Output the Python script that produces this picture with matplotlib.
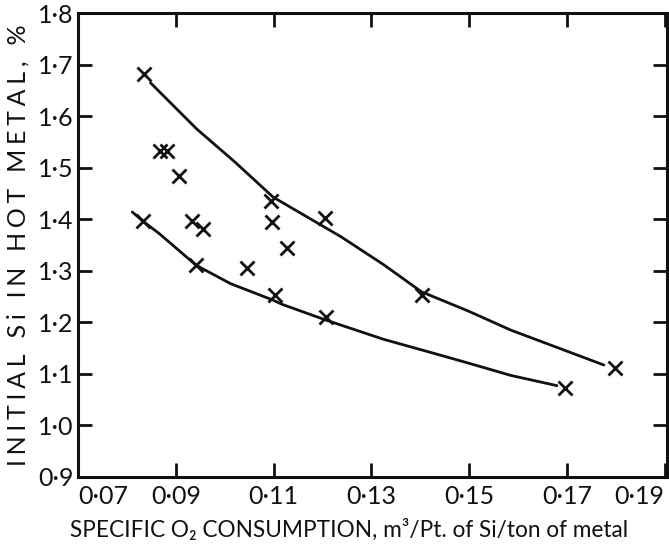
import matplotlib
matplotlib.use("Agg")
import matplotlib.pyplot as plt

# ---- data ----
upper_pts_x = [0.0835, 0.1095, 0.1205, 0.1403, 0.1798]
upper_pts_y = [1.682, 1.435, 1.403, 1.253, 1.112]

lower_pts_x = [0.0833, 0.0941, 0.1103, 0.1208, 0.1696]
lower_pts_y = [1.396, 1.311, 1.252, 1.210, 1.073]

scatter_x = [0.0867, 0.0882, 0.0907, 0.0934, 0.0956, 0.1097, 0.1127, 0.1045]
scatter_y = [1.533, 1.533, 1.484, 1.396, 1.381, 1.394, 1.344, 1.305]

upper_curve_x = [0.0848, 0.0943, 0.1021, 0.1099, 0.1238, 0.1325, 0.1403, 0.1498, 0.1585, 0.1776]
upper_curve_y = [1.665, 1.575, 1.511, 1.443, 1.366, 1.312, 1.259, 1.222, 1.185, 1.117]

lower_curve_x = [0.0811, 0.0833, 0.0865, 0.0891, 0.0941, 0.1012, 0.1099, 0.1117, 0.1208, 0.1325, 0.1412, 0.1498, 0.1585, 0.1680]
lower_curve_y = [1.414, 1.396, 1.373, 1.352, 1.311, 1.275, 1.243, 1.235, 1.204, 1.167, 1.144, 1.121, 1.097, 1.077]

x_ticks = [0.07, 0.09, 0.11, 0.13, 0.15, 0.17, 0.19]
x_ticklabels = ["0·07", "0·09", "0·11", "0·13", "0·15", "0·17", "0·19"]
y_ticks = [0.9, 1.0, 1.1, 1.2, 1.3, 1.4, 1.5, 1.6, 1.7, 1.8]
y_ticklabels = ["0·9", "1·0", "1·1", "1·2", "1·3", "1·4", "1·5", "1·6", "1·7", "1·8"]

y_title = "INITIAL Si IN HOT METAL, %"
x_title = "SPECIFIC O₂ CONSUMPTION, m³/Pt. of Si/ton of metal"

plt.rcParams['font.family'] = ['Lato', 'DejaVu Sans']

def spaced(s, sp="\u2009"):
    return sp.join(list(s))

fig = plt.figure(figsize=(6.69, 5.45), dpi=100)
ax = fig.add_axes([0.1166, 0.125, 0.9804 - 0.1166 + 0.0166, 0.976 - 0.125])
ax.set_xlim(0.07, 0.1905)
ax.set_ylim(0.9, 1.8)

ink = "#111111"
ax.plot(upper_curve_x, upper_curve_y, color=ink, lw=2.0, solid_capstyle='round')
ax.plot(lower_curve_x, lower_curve_y, color=ink, lw=2.0, solid_capstyle='round')
ax.plot(upper_pts_x, upper_pts_y, 'x', color=ink, ms=9.5, mew=2.0)
ax.plot(lower_pts_x, lower_pts_y, 'x', color=ink, ms=9.5, mew=2.0)
ax.plot(scatter_x, scatter_y, 'x', color=ink, ms=9.5, mew=2.0)

for s in ax.spines.values():
    s.set_linewidth(2.2)
    s.set_color(ink)

ax.set_xticks(x_ticks)
ax.set_xticklabels(x_ticklabels)
ax.set_yticks(y_ticks)
ax.set_yticklabels(y_ticklabels)
ax.tick_params(axis='both', direction='in', length=10, width=2, color=ink,
               labelsize=18, labelcolor=ink, top=True, right=True)
ax.tick_params(axis='y', pad=3)
ax.tick_params(axis='x', pad=6)
lbls = ax.get_xticklabels()
lbls[0].set_horizontalalignment('left')
lbls[-1].set_horizontalalignment('right')

ax.set_ylabel(spaced(y_title, "\u2009\u200a"), fontsize=18, color=ink, labelpad=6)
ax.set_xlabel(x_title, fontsize=16.3, color=ink, labelpad=8)
ax.xaxis.set_label_coords(0.46, -0.09)

fig.savefig("out.png", dpi=100)
